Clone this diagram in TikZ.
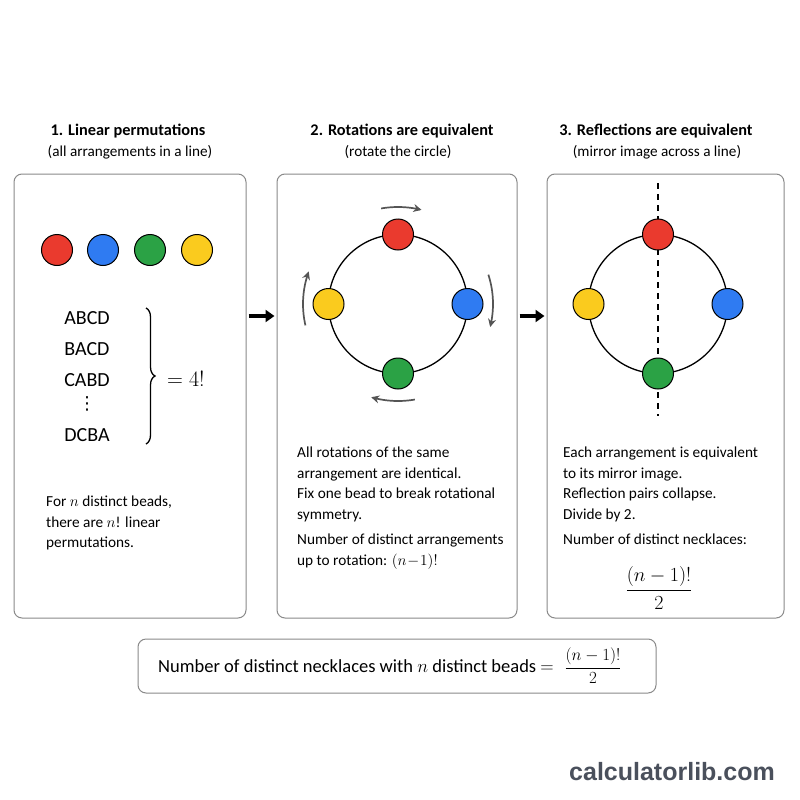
\documentclass[tikz,border=0pt]{standalone}
\usepackage{fix-cm}
\usepackage{amsmath}
\usepackage{fontspec}
\setmainfont{Carlito}
\newfontfamily\wmfont{Liberation Sans}
\newfontfamily\dvfont{DejaVu Sans}
\usetikzlibrary{arrows.meta,decorations.pathreplacing,calc}
\definecolor{cred}{HTML}{EA3A2E}
\definecolor{cblue}{HTML}{2F7BF2}
\definecolor{cgreen}{HTML}{2BA245}
\definecolor{cyellow}{HTML}{FACB1E}
\definecolor{boxgray}{HTML}{8A8A8A}
\definecolor{arcgray}{HTML}{555555}
\definecolor{wmgray}{HTML}{4A505C}
\begin{document}
\begin{tikzpicture}[x=1pt,y=-1pt,
  panel/.style={draw=boxgray,line width=1pt,rounded corners=8pt,inner sep=0pt},
  ttl/.style={font=\fontsize{16.3}{19}\selectfont\bfseries},
  sub/.style={font=\fontsize{15.2}{18}\selectfont},
  body/.style={font=\fontsize{15.3}{20.5}\selectfont,align=left,anchor=north west,inner sep=0pt},
  bead/.style={circle,draw=black,line width=1pt,minimum size=31pt,inner sep=0pt},
  ring/.style={circle,draw=black,line width=1.3pt,minimum size=139pt,inner sep=0pt,outer sep=0pt},
  lst/.style={font=\fontsize{20}{22}\selectfont,inner sep=0pt},
  bigarrow/.style={line width=3.2pt,-{Triangle[length=9pt,width=12pt]}},
  rotarrow/.style={arcgray,line width=1.7pt,-{Stealth[length=8pt,width=8pt]}}
]
\useasboundingbox (0,0) rectangle (800,800);
\fill[white] (0,0) rectangle (800,800);

% titles
\node[ttl] (t1) at (128,131) {1. Linear permutations};
\node[sub] (s1) at (130,152) {(all arrangements in a line)};
\node[ttl] (t2) at (402,131) {2. Rotations are equivalent};
\node[sub] (s2) at (398,152) {(rotate the circle)};
\node[ttl] (t3) at (656,131) {3. Reflections are equivalent};
\node[sub] (s3) at (657,152) {(mirror image across a line)};

% panels
\node[panel,minimum width=232pt,minimum height=444pt] (p1) at (130,396) {};
\node[panel,minimum width=240pt,minimum height=444pt] (p2) at (397,396) {};
\node[panel,minimum width=237pt,minimum height=444pt] (p3) at (665.5,396) {};

% arrows between panels
\draw[bigarrow] ([yshift=80pt,xshift=2pt]p1.east) -- ([yshift=80pt,xshift=-2pt]p2.west);
\draw[bigarrow] ([yshift=80pt,xshift=2pt]p2.east) -- ([yshift=80pt,xshift=-2pt]p3.west);

% panel 1
\node[bead,fill=cred] (a1) at (57,250) {};
\node[bead,fill=cblue] (a2) at (103,250) {};
\node[bead,fill=cgreen] (a3) at (150,250) {};
\node[bead,fill=cyellow] (a4) at (197,250) {};
\node[lst] (l1) at (87,318) {ABCD};
\node[lst] (l2) at (87,349) {BACD};
\node[lst] (l3) at (87,380) {CABD};
\node[lst,font=\dvfont\fontsize{18}{20}\selectfont] (l4) at (87,404) {⋮};
\node[lst] (l5) at (87,435) {DCBA};
\coordinate (bt) at (146,308);
\coordinate (bb) at (146,444);
\draw[line width=1.3pt,decorate,decoration={brace,amplitude=9pt}] (bt) -- (bb);
\node[font=\fontsize{22}{24}\selectfont] (f1) at (186,379) {$=4!$};
\node[body] (d1) at (46,496) {For $n$ distinct beads,\\there are $n$! linear\\permutations.};

% panel 2
\node[ring] (c2) at (398,304) {};
\node[bead,fill=cred] (r2) at (c2.north) {};
\node[bead,fill=cblue] (u2) at (c2.east) {};
\node[bead,fill=cgreen] (g2) at (c2.south) {};
\node[bead,fill=cyellow] (y2) at (c2.west) {};
\draw[rotarrow] plot[smooth,domain=100:76,samples=20] ({398+97*cos(\x)},{304-97*sin(\x)});
\draw[rotarrow] plot[smooth,domain=18:-14,samples=20] ({398+95*cos(\x)},{304-95*sin(\x)});
\draw[rotarrow] plot[smooth,domain=-80:-106,samples=20] ({398+97*cos(\x)},{304-97*sin(\x)});
\draw[rotarrow] plot[smooth,domain=193:160,samples=20] ({398+95*cos(\x)},{304-95*sin(\x)});
\node[body] (d2) at (297,447) {All rotations of the same\\arrangement are identical.\\Fix one bead to break rotational\\symmetry.\\[5pt]Number of distinct arrangements\\up to rotation: $(n\!-\!1)!$};

% panel 3
\coordinate (m1) at (658,183);
\coordinate (m2) at (658,416);
\draw[line width=1.2pt,dash pattern=on 6pt off 5pt] (m1) -- (m2);
\node[ring] (c3) at (658,304) {};
\node[bead,fill=cred] (r3) at (c3.north) {};
\node[bead,fill=cblue] (u3) at (c3.east) {};
\node[bead,fill=cgreen] (g3) at (c3.south) {};
\node[bead,fill=cyellow] (y3) at (c3.west) {};
\node[body] (d3) at (563,447) {Each arrangement is equivalent\\to its mirror image.\\Reflection pairs collapse.\\Divide by 2.\\[5pt]Number of distinct necklaces:};
\node[font=\fontsize{20}{24}\selectfont] (f3) at (659,588) {$\dfrac{(n-1)!}{2}$};

% summary
\node[panel,minimum width=518pt,minimum height=54pt] (sum) at (397,666) {};
\node[font=\fontsize{18.5}{22}\selectfont,inner sep=0pt] (st) at (356,666) {Number of distinct necklaces with $n$ distinct beads $=$};
\node[font=\fontsize{17}{20}\selectfont,inner sep=0pt] (sf) at (593,666) {$\dfrac{(n-1)!}{2}$};

% watermark
\node[font=\wmfont\fontsize{25}{30}\selectfont\bfseries,text=wmgray] (wm) at (672,772) {calculatorlib.com};
\end{tikzpicture}
\end{document}
